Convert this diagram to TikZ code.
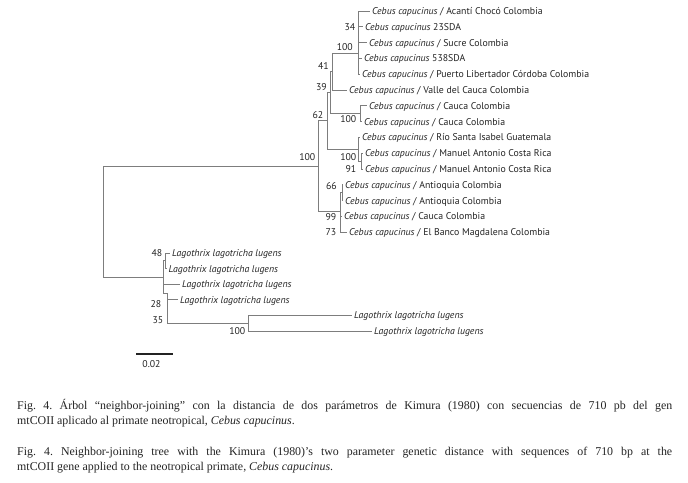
\documentclass[tikz,border=0pt]{standalone}
\usepackage{fontspec}
\setmainfont{Liberation Serif}
\newfontfamily\treefont{PT Sans}
\definecolor{treegray}{RGB}{125,125,125}
\definecolor{txt}{RGB}{35,35,35}
\newcommand{\Cbc}{\textit{Cebus capucinus}}
\newcommand{\Lag}{\textit{Lagothrix lagotricha lugens}}
\begin{document}
\frenchspacing
\begin{tikzpicture}[x=1pt,y=-1pt,
  branch/.style={draw=treegray, line width=0.9pt},
  leaf/.style={anchor=west, inner xsep=2pt, inner ysep=0pt, text height=8.4pt, text depth=1.6pt,
    font=\treefont\fontsize{9.8}{11}\selectfont, text=txt},
  boot/.style={anchor=east, inner sep=0pt, text height=6.9pt, text depth=0pt,
    font=\treefont\fontsize{9.8}{11}\selectfont, text=txt},
  capline/.style={anchor=base west, inner sep=0pt, font=\fontsize{11.9}{13}\selectfont, text=txt}]
\useasboundingbox (0,0) rectangle (688,482);

% internal nodes
\coordinate (root) at (103,221.5);
\coordinate (cebus) at (318,166);
\coordinate (n62) at (327,120.9);
\coordinate (n39) at (330,92.6);
\coordinate (n41) at (332,71.5);
\coordinate (nTop) at (358,53);
\coordinate (nCau) at (360,113.7);
\coordinate (nRio) at (358,149.25);
\coordinate (nMan) at (361,161.1);
\coordinate (nAnt) at (340,211);
\coordinate (n66) at (342,192.7);
\coordinate (lago) at (163,277);
\coordinate (n48) at (165,260.8);
\coordinate (n35) at (167,293);
\coordinate (nPair) at (248,323.2);

% leaves
\node[leaf] (l1) at (370,11.0) {\Cbc{} / Acantí Chocó Colombia};
\node[leaf] (l2) at (363,26.8) {\Cbc{} 23SDA};
\node[leaf] (l3) at (367,42.6) {\Cbc{} / Sucre Colombia};
\node[leaf] (l4) at (362,58.4) {\Cbc{} 538SDA};
\node[leaf] (l5) at (360,74.2) {\Cbc{} / Puerto Libertador Córdoba Colombia};
\node[leaf] (l6) at (347,90.0) {\Cbc{} / Valle del Cauca Colombia};
\node[leaf] (l7) at (367,105.8) {\Cbc{} / Cauca Colombia};
\node[leaf] (l8) at (362,121.6) {\Cbc{} / Cauca Colombia};
\node[leaf] (l9) at (360,137.4) {\Cbc{} / Río Santa Isabel Guatemala};
\node[leaf] (l10) at (363,153.2) {\Cbc{} / Manuel Antonio Costa Rica};
\node[leaf] (l11) at (363,169.0) {\Cbc{} / Manuel Antonio Costa Rica};
\node[leaf] (l12) at (343,184.8) {\Cbc{} / Antioquia Colombia};
\node[leaf] (l13) at (343,200.6) {\Cbc{} / Antioquia Colombia};
\node[leaf] (l14) at (342,216.4) {\Cbc{} / Cauca Colombia};
\node[leaf] (l15) at (347,232.2) {\Cbc{} / El Banco Magdalena Colombia};
\node[leaf] (l16) at (170,253.0) {\Lag};
\node[leaf] (l17) at (166.5,268.6) {\Lag};
\node[leaf] (l18) at (180,284.2) {\Lag};
\node[leaf] (l19) at (178,299.8) {\Lag};
\node[leaf] (l20) at (352,315.4) {\Lag};
\node[leaf] (l21) at (372,331.0) {\Lag};

% branches
\draw[branch] (root) |- (cebus);
\draw[branch] (root) |- (lago);
\draw[branch] (cebus) |- (n62);
\draw[branch] (cebus) |- (nAnt);
\draw[branch] (n62) |- (n39);
\draw[branch] (n62) |- (nRio);
\draw[branch] (n39) |- (n41);
\draw[branch] (n39) |- (nCau);
\draw[branch] (n41) |- (nTop);
\draw[branch] (n41) |- (l6.west);
\foreach \i in {1,...,5} {\draw[branch] (nTop) |- (l\i.west);}
\draw[branch] (nCau) |- (l7.west);
\draw[branch] (nCau) |- (l8.west);
\draw[branch] (nRio) |- (l9.west);
\draw[branch] (nRio) |- (nMan);
\draw[branch] (nMan) |- (l10.west);
\draw[branch] (nMan) |- (l11.west);
\draw[branch] (nAnt) |- (n66);
\draw[branch] (nAnt) |- (l14.west);
\draw[branch] (nAnt) |- (l15.west);
\draw[branch] (n66) |- (l12.west);
\draw[branch] (n66) |- (l13.west);
\draw[branch] (lago) |- (n48);
\draw[branch] (lago) |- (l18.west);
\draw[branch] (lago) |- (n35);
\draw[branch] (n48) |- (l16.west);
\draw[branch] (n48) |- (l17.west);
\draw[branch] (n35) |- (l19.west);
\draw[branch] (n35) |- (nPair);
\draw[branch] (nPair) |- (l20.west);
\draw[branch] (nPair) |- (l21.west);

% bootstrap values
\node[boot] (b1) at (315.5,157.5) {100};
\node[boot] (b2) at (355.5,26.8) {34};
\node[boot] (b3) at (353,47.5) {100};
\node[boot] (b4) at (329,66) {41};
\node[boot] (b5) at (327,87.5) {39};
\node[boot] (b6) at (323.5,115) {62};
\node[boot] (b7) at (356.5,119.5) {100};
\node[boot] (b8) at (356.5,157) {100};
\node[boot] (b9) at (356.5,169) {91};
\node[boot] (b10) at (337,186.5) {66};
\node[boot] (b11) at (336.5,217.5) {99};
\node[boot] (b12) at (336.5,232.5) {73};
\node[boot] (b13) at (162.5,253) {48};
\node[boot] (b14) at (161.5,304) {28};
\node[boot] (b15) at (163.5,320) {35};
\node[boot] (b16) at (245.5,331) {100};

% scale bar
\coordinate (sbL) at (136,354);
\coordinate (sbR) at (173,354);
\draw[line width=1.5pt, draw=txt] (sbL) -- (sbR);
\node[inner sep=0pt, font=\treefont\fontsize{9.8}{11}\selectfont, text=txt] (sbt) at (151.5,364) {0.02};

% caption
\node[capline] (c1) at (17,409.5) {\hbox to 655pt{Fig. 4. Árbol “neighbor-joining” con la distancia de dos parámetros de Kimura (1980) con secuencias de 710 pb del gen}};
\node[capline] (c2) at (17,424.5) {mtCOII aplicado al primate neotropical, \textit{Cebus capucinus}.};
\node[capline] (c3) at (17,455.5) {\hbox to 655pt{Fig. 4. Neighbor-joining tree with the Kimura (1980)’s two parameter genetic distance with sequences of 710 bp at the}};
\node[capline] (c4) at (17,470.5) {mtCOII gene applied to the neotropical primate, \textit{Cebus capucinus}.};
\end{tikzpicture}
\end{document}
